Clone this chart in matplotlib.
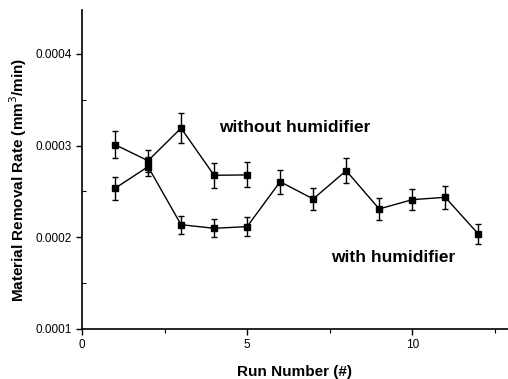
import matplotlib
matplotlib.use("Agg")
import matplotlib.pyplot as plt
from matplotlib.ticker import MultipleLocator, FormatStrFormatter

# ── data ─────────────────────────────────────────────────────────────────
runs_a = [1, 2, 3, 4, 5]
rate_a = [0.000301, 0.0002835, 0.000319, 0.0002676, 0.000268]
err_a  = [0.000015, 0.000012, 0.000016, 0.0000136, 0.0000136]

runs_b = [1, 2, 3, 4, 5, 6, 7, 8, 9, 10, 11, 12]
rate_b = [0.0002534, 0.000277, 0.0002137, 0.0002098, 0.0002116, 0.0002606,
          0.0002418, 0.0002726, 0.0002309, 0.000241, 0.0002436, 0.0002036]
err_b  = [0.0000127, 0.00001, 0.00001, 0.00001, 0.00001, 0.0000133,
          0.0000124, 0.0000138, 0.000012, 0.0000118, 0.0000124, 0.0000107]

label_a = "without humidifier"
label_b = "with humidifier"

plt.rcParams["font.family"] = ["Liberation Sans", "DejaVu Sans"]

fig = plt.figure(figsize=(5.08, 3.79), dpi=100)
ax = fig.add_axes([0.1614, 0.132, 0.8386, 0.842])

style = dict(color="black", marker="s", markersize=4.5, linewidth=1.0,
             elinewidth=1.0, capsize=2.5, capthick=1.0)
ax.errorbar(runs_a, rate_a, yerr=err_a, **style)
ax.errorbar(runs_b, rate_b, yerr=err_b, **style)

ax.text(6.43, 0.00032, label_a, fontsize=12.5, fontweight="bold", ha="center", va="center")
ax.text(9.42, 0.0001774, label_b, fontsize=12.5, fontweight="bold", ha="center", va="center")

ax.set_xlim(0, 12.9)
ax.set_ylim(0.0001, 0.000448)
ax.xaxis.set_major_locator(MultipleLocator(5))
ax.xaxis.set_minor_locator(MultipleLocator(2.5))
ax.yaxis.set_major_locator(MultipleLocator(0.0001))
ax.yaxis.set_minor_locator(MultipleLocator(0.00005))
ax.yaxis.set_major_formatter(FormatStrFormatter("%.4f"))

for side in ("top", "right"):
    ax.spines[side].set_visible(False)
for side in ("left", "bottom"):
    ax.spines[side].set_linewidth(1.2)

ax.tick_params(axis="both", which="major", direction="out", length=4, width=1, labelsize=8.5)
ax.tick_params(axis="y", which="minor", direction="in", length=3, width=0.8)
ax.tick_params(axis="x", which="minor", direction="out", length=3, width=0.8)

ax.set_xlabel("Run Number (#)", fontsize=11, fontweight="bold", labelpad=10)
ax.set_ylabel("Material Removal Rate (mm$^3$/min)", fontsize=11, fontweight="bold")
ax.yaxis.set_label_coords(-0.124, 0.467)

fig.savefig("out.png", dpi=100)
